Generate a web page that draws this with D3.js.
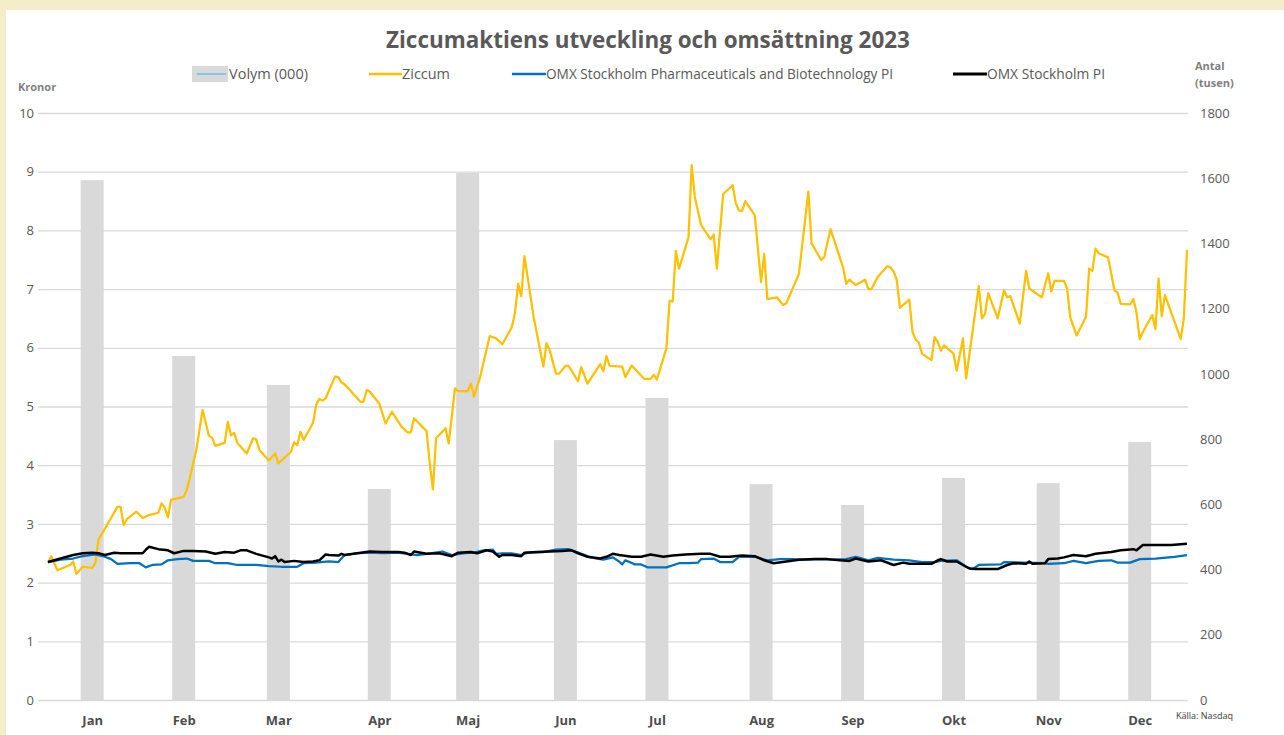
<!DOCTYPE html>
<html>
<head>
<meta charset="utf-8">
<script src="https://cdnjs.cloudflare.com/ajax/libs/d3/7.8.5/d3.min.js"></script>
<style>
    body { margin: 0; background: #f5ecc9; }
    #chart { width: 1284px; height: 735px; }
    text { font-family: "Open Sans", "DejaVu Sans", sans-serif; }
</style>
</head>
<body>
<div id="chart"></div>
<script>
// month labels + monthly volume (thousands), bar placed mid-month (day of year)
const months = ["Jan", "Feb", "Mar", "Apr", "Maj", "Jun", "Jul", "Aug", "Sep", "Okt", "Nov", "Dec"];
const volDay = [16, 45, 75, 107, 135, 166, 195, 228, 257, 289, 319, 348];
const volume = [1594, 1055, 966, 647, 1616, 797, 926, 662, 598, 681, 665, 791];

// Ziccum share price (kronor), day of year
const zicDay = [2,3,5,9,10,11,13,16,17,18,21,24,25,26,27,30,32,34,37,38,39,40,41,45,46,47,49,51,53,54,55,58,59,60,61,62,65,67,68,69,72,74,75,
    79,80,81,82,83,86,87,88,89,90,93,94,95,96,101,102,103,104,107,109,111,114,116,117,118,122,123,124,125,128,129,131,132,135,136,137,139,
    142,144,146,149,150,151,152,153,156,159,160,161,163,164,166,167,170,171,173,177,178,179,180,184,185,187,191,193,194,195,198,199,200,201,
    202,205,206,207,209,212,213,214,216,219,220,221,222,223,226,228,229,230,233,235,236,240,243,244,247,248,250,254,255,256,258,261,262,263,
    265,268,269,270,271,272,275,276,277,278,279,282,283,284,285,286,289,290,292,293,297,298,299,300,303,305,306,307,310,312,313,317,319,320,
    321,324,325,326,328,331,332,333,334,335,338,340,341,342,345,346,347,348,349,352,353,354,355,356,361,362,363];
const zicVal = [2.34,2.45,2.21,2.30,2.36,2.15,2.27,2.25,2.33,2.73,3.01,3.29,3.29,2.98,3.08,3.21,3.10,3.15,3.19,3.35,3.28,3.11,3.41,3.46,3.58,3.80,
    4.26,4.94,4.50,4.47,4.33,4.38,4.74,4.51,4.55,4.38,4.20,4.46,4.44,4.26,4.08,4.20,4.03,
    4.23,4.39,4.34,4.57,4.43,4.72,5.03,5.13,5.10,5.14,5.51,5.50,5.41,5.38,5.08,5.08,5.28,5.25,5.05,4.71,4.91,4.66,4.56,4.56,4.80,4.58,4.03,
    3.59,4.46,4.63,4.37,5.31,5.26,5.26,5.39,5.17,5.51,6.20,6.16,6.06,6.35,6.59,7.09,6.88,7.56,6.50,5.68,6.08,5.96,5.56,5.56,5.69,5.69,5.43,
    5.67,5.39,5.72,5.60,5.86,5.69,5.68,5.50,5.70,5.47,5.47,5.54,5.46,5.99,6.80,6.79,7.65,7.35,7.88,9.11,8.57,8.09,7.85,7.93,7.35,8.62,8.77,
    8.46,8.34,8.33,8.50,8.26,7.12,7.60,6.83,6.86,6.73,6.76,7.26,8.66,7.78,7.50,7.54,8.02,7.37,7.09,7.16,7.07,7.16,7.00,7.00,7.21,7.39,7.37,
    7.30,7.16,6.68,6.82,6.27,6.14,6.09,5.90,5.79,6.18,6.10,5.95,6.04,5.90,5.61,6.16,5.48,7.05,6.50,6.58,6.93,6.50,6.98,6.86,6.88,6.41,7.31,
    7.01,6.86,7.27,6.96,7.14,7.14,7.01,6.52,6.21,6.53,7.35,7.31,7.69,7.61,7.54,6.98,6.94,6.75,6.74,6.83,6.60,6.15,6.27,6.56,6.32,7.18,6.54,
    6.90,6.15,6.50,7.67];

// OMX Stockholm Pharmaceuticals and Biotechnology PI (rebased)
const phDay = [2,6,10,13,17,20,22,24,28,31,33,35,38,40,43,46,48,50,53,55,59,62,65,68,72,76,81,83,87,91,94,96,100,104,108,113,117,119,122,
    127,130,134,137,140,143,144,146,149,152,154,159,163,167,170,174,178,181,183,184,185,188,190,192,198,202,205,208,209,213,215,219,221,
    226,230,234,238,242,247,251,255,258,262,265,270,275,279,283,285,289,290,293,295,297,304,305,311,318,319,324,327,331,335,339,341,345,
    348,353,359,363];
const phVal = [2.35,2.39,2.41,2.45,2.48,2.44,2.40,2.32,2.33,2.33,2.26,2.30,2.31,2.38,2.40,2.41,2.37,2.37,2.37,2.33,2.33,2.30,2.30,2.30,2.28,
    2.27,2.27,2.33,2.34,2.36,2.35,2.47,2.50,2.51,2.50,2.51,2.48,2.47,2.49,2.53,2.47,2.50,2.51,2.55,2.56,2.49,2.50,2.50,2.47,2.51,2.52,2.56,
    2.57,2.51,2.43,2.39,2.43,2.36,2.31,2.38,2.31,2.31,2.26,2.26,2.33,2.33,2.34,2.40,2.41,2.35,2.35,2.44,2.44,2.38,2.40,2.40,2.39,2.40,2.39,
    2.40,2.44,2.38,2.42,2.39,2.38,2.35,2.35,2.37,2.38,2.38,2.27,2.23,2.30,2.31,2.35,2.34,2.33,2.32,2.33,2.37,2.33,2.37,2.38,2.34,2.34,2.40,
    2.41,2.44,2.47];

// OMX Stockholm PI (rebased)
const omxDay = [2,6,10,13,16,18,20,23,25,28,32,33,34,37,40,42,45,48,52,55,58,61,63,65,68,72,73,74,75,76,77,80,83,86,88,90,91,94,95,96,100,
    104,108,113,115,117,118,122,126,130,132,136,138,141,143,145,146,149,152,153,157,161,165,168,170,173,177,179,181,183,187,190,193,197,200,
    204,209,212,215,218,222,226,229,232,236,240,245,249,253,256,258,262,266,270,273,275,278,282,284,285,287,290,292,294,296,303,306,308,312,
    313,314,318,319,322,324,327,331,334,339,342,346,347,349,353,358,363];
const omxVal = [2.35,2.41,2.47,2.50,2.51,2.50,2.47,2.51,2.50,2.50,2.50,2.56,2.61,2.57,2.55,2.50,2.54,2.54,2.53,2.49,2.52,2.51,2.55,2.55,2.49,
    2.43,2.41,2.45,2.36,2.39,2.35,2.37,2.35,2.36,2.38,2.48,2.47,2.46,2.49,2.47,2.50,2.53,2.52,2.52,2.51,2.47,2.53,2.49,2.50,2.45,2.51,2.52,
    2.50,2.55,2.53,2.44,2.47,2.47,2.45,2.51,2.52,2.53,2.54,2.55,2.50,2.44,2.41,2.44,2.49,2.47,2.44,2.44,2.48,2.44,2.46,2.48,2.49,2.49,2.44,
    2.44,2.46,2.45,2.38,2.33,2.36,2.39,2.40,2.40,2.38,2.37,2.41,2.36,2.38,2.30,2.34,2.32,2.32,2.32,2.38,2.40,2.36,2.36,2.30,2.24,2.23,2.23,
    2.30,2.33,2.32,2.36,2.32,2.33,2.40,2.41,2.43,2.47,2.45,2.49,2.52,2.55,2.57,2.55,2.64,2.64,2.64,2.66];

const dayToDate = d => new Date(2023, 0, d);

class ComboChart {
    constructor(parentElement) {
        this.parentElement = parentElement;
        this.initVis();
    }

    initVis() {
        let vis = this;

        vis.margin = {top: 113, right: 97, bottom: 35, left: 48};
        vis.width = 1284 - vis.margin.left - vis.margin.right;
        vis.height = 735 - vis.margin.top - vis.margin.bottom;

        vis.root = d3.select("#" + vis.parentElement).append("svg")
            .attr("width", 1284)
            .attr("height", 735);

        // cream frame + white panel
        vis.root.append("rect").attr("width", 1284).attr("height", 735).attr("fill", "#f5ecc9");
        vis.root.append("rect").attr("x", 6).attr("y", 10).attr("width", 1278).attr("height", 725).attr("fill", "#fff");

        vis.svg = vis.root.append("g")
            .attr("transform", "translate(" + vis.margin.left + "," + vis.margin.top + ")");

        // scales
        vis.x = d3.scaleTime()
            .domain([dayToDate(2), dayToDate(363)])
            .range([0, vis.width]);
        vis.yL = d3.scaleLinear().domain([0, 10]).range([vis.height, 0]);
        vis.yR = d3.scaleLinear().domain([0, 1800]).range([vis.height, 0]);

        vis.drawTexts();
        vis.wrangleData();
    }

    drawTexts() {
        let vis = this;

        let title = vis.root.append("text")
            .attr("x", 648).attr("y", 48)
            .attr("text-anchor", "middle")
            .attr("font-size", 22).attr("font-weight", 700)
            .attr("fill", "#595959")
            .text("Ziccumaktiens utveckling och omsättning 2023");
        let w = title.node().getComputedTextLength();
        title.attr("font-size", 22 * 524 / w);

        vis.root.append("text")
            .attr("x", 18).attr("y", 91)
            .attr("font-size", 11).attr("font-weight", 700).attr("fill", "#7f7f7f")
            .text("Kronor");
        vis.root.append("text")
            .attr("x", 1195).attr("y", 70)
            .attr("font-size", 11).attr("font-weight", 700).attr("fill", "#7f7f7f")
            .text("Antal");
        vis.root.append("text")
            .attr("x", 1195).attr("y", 87)
            .attr("font-size", 11).attr("font-weight", 700).attr("fill", "#7f7f7f")
            .text("(tusen)");

        vis.root.append("text")
            .attr("x", 1176).attr("y", 719)
            .attr("font-size", 9).attr("fill", "#404040")
            .attr("textLength", 57).attr("lengthAdjust", "spacingAndGlyphs")
            .text("Källa: Nasdaq");

        // legend
        let legend = vis.root.append("g").attr("class", "legend");
        legend.append("rect")
            .attr("x", 192).attr("y", 66).attr("width", 36).attr("height", 16)
            .attr("fill", "#d9d9d9");
        legend.append("line")
            .attr("x1", 197).attr("x2", 226).attr("y1", 74).attr("y2", 74)
            .attr("stroke", "#7cc8e8").attr("stroke-width", 2);

        let items = [
            {color: "#ffc000", w: 2.5, x: 369, tx: 402, tl: 48, label: "Ziccum"},
            {color: "#0070c0", w: 2.5, x: 512, tx: 546, tl: 347, label: "OMX Stockholm Pharmaceuticals and Biotechnology PI"},
            {color: "#000000", w: 3, x: 953, tx: 987, tl: 118, label: "OMX Stockholm PI"}
        ];
        items.forEach(it => {
            legend.append("line")
                .attr("x1", it.x).attr("x2", it.tx).attr("y1", 74).attr("y2", 74)
                .attr("stroke", it.color).attr("stroke-width", it.w);
            legend.append("text")
                .attr("x", it.tx).attr("y", 79)
                .attr("font-size", 14).attr("fill", "#595959")
                .attr("textLength", it.tl).attr("lengthAdjust", "spacingAndGlyphs")
                .text(it.label);
        });
        legend.append("text")
            .attr("x", 229).attr("y", 79)
            .attr("font-size", 14).attr("fill", "#595959")
            .attr("textLength", 79).attr("lengthAdjust", "spacingAndGlyphs")
            .text("Volym  (000)");
    }

    wrangleData() {
        let vis = this;

        vis.bars = volDay.map((d, i) => ({date: dayToDate(d), value: volume[i]}));
        vis.zic = zicDay.map((d, i) => [dayToDate(d), zicVal[i]]);
        vis.ph = phDay.map((d, i) => [dayToDate(d), phVal[i]]);
        vis.omx = omxDay.map((d, i) => [dayToDate(d), omxVal[i]]);

        vis.updateVis();
    }

    updateVis() {
        let vis = this;

        // gridlines + left labels
        let gridL = vis.svg.append("g")
            .attr("class", "y-axis axis")
            .attr("transform", "translate(-10,0)")
            .call(d3.axisLeft(vis.yL).ticks(10).tickSize(-(vis.width + 11)).tickPadding(4));
        gridL.select(".domain").remove();
        gridL.selectAll("line").attr("stroke", "#d9d9d9").attr("stroke-width", 1.3);
        gridL.selectAll("text").attr("font-size", 13).attr("fill", "#595959")
            .style("font-family", "Open Sans");

        // right labels
        let axR = vis.svg.append("g")
            .attr("class", "y2-axis axis")
            .attr("transform", "translate(" + vis.width + ",0)")
            .call(d3.axisRight(vis.yR).tickValues(d3.range(0, 1801, 200))
                .tickFormat(d3.format("d")).tickSize(0).tickPadding(13));
        axR.select(".domain").remove();
        axR.selectAll("text").attr("font-size", 13).attr("fill", "#595959")
            .style("font-family", "Open Sans");

        // volume bars
        vis.svg.selectAll(".bar").data(vis.bars).enter().append("rect")
            .attr("class", "bar")
            .attr("x", d => vis.x(d.date) - 11.5)
            .attr("width", 23)
            .attr("y", d => vis.yR(d.value))
            .attr("height", d => vis.height - vis.yR(d.value))
            .attr("fill", "#d9d9d9");

        // month axis
        let axX = vis.svg.append("g")
            .attr("class", "x-axis axis")
            .attr("transform", "translate(0," + vis.height + ")")
            .call(d3.axisBottom(vis.x).tickValues(vis.bars.map(d => d.date))
                .tickFormat((d, i) => months[i]).tickSize(0).tickPadding(16));
        axX.select(".domain").remove();
        axX.selectAll("text").attr("font-size", 13).attr("font-weight", 700).attr("fill", "#4d4d4d")
            .style("font-family", "Open Sans");

        let line = d3.line()
            .x(d => vis.x(d[0]))
            .y(d => vis.yL(d[1]));

        vis.svg.append("path").datum(vis.zic)
            .attr("d", line).attr("fill", "none")
            .attr("stroke", "#ffc000").attr("stroke-width", 2.25).attr("stroke-linejoin", "round");
        vis.svg.append("path").datum(vis.ph)
            .attr("d", line).attr("fill", "none")
            .attr("stroke", "#0070c0").attr("stroke-width", 2.25).attr("stroke-linejoin", "round");
        vis.svg.append("path").datum(vis.omx)
            .attr("d", line).attr("fill", "none")
            .attr("stroke", "#000000").attr("stroke-width", 2.5).attr("stroke-linejoin", "round");
    }
}

new ComboChart("chart");
</script>
</body>
</html>
